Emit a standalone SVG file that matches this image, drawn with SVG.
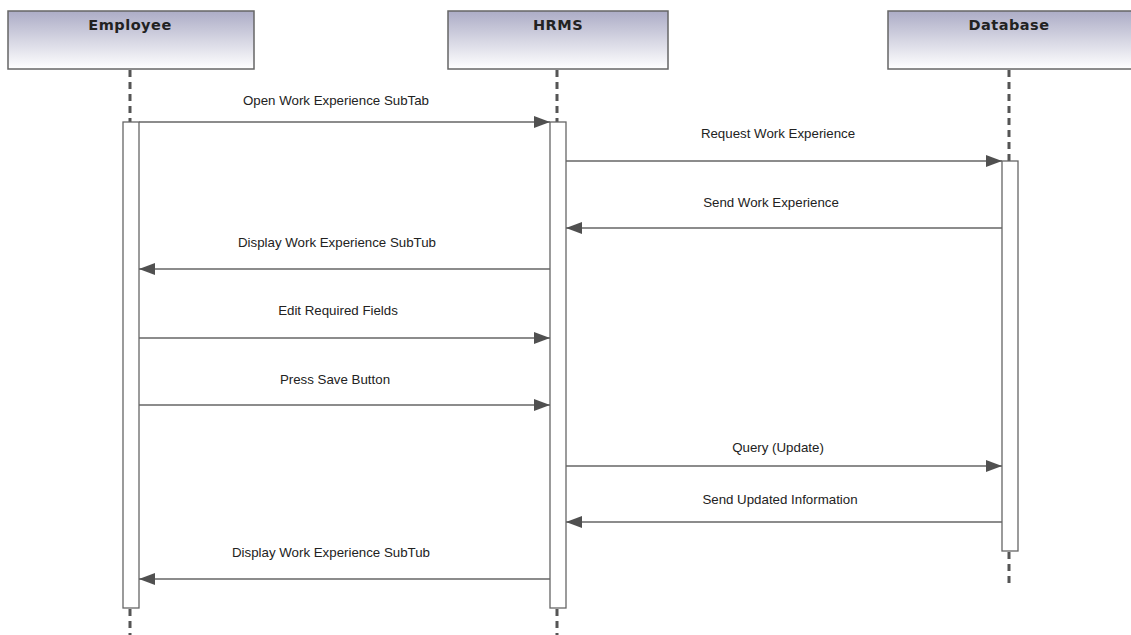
<svg xmlns="http://www.w3.org/2000/svg" width="1131" height="635" viewBox="0 0 1131 635">
<defs>
<linearGradient id="hdr" x1="0" y1="0" x2="0" y2="1">
<stop offset="0" stop-color="#acacc6"/>
<stop offset="1" stop-color="#ffffff"/>
</linearGradient>
<marker id="ah" viewBox="0 0 16 12" refX="16" refY="6" markerWidth="16" markerHeight="12" markerUnits="userSpaceOnUse" orient="auto">
<path d="M0,0 L16,6 L0,12 Z" fill="#505050"/>
</marker>
<style>
.hdr{fill:url(#hdr);stroke:#666;stroke-width:1.5}
.hdrt{font-family:"DejaVu Sans",Verdana,sans-serif;font-weight:bold;font-size:14.5px;letter-spacing:0.5px;fill:#222;text-anchor:middle}
.life{stroke:#555;stroke-width:3;stroke-dasharray:7,5;fill:none}
.act{fill:#fff;stroke:#666;stroke-width:1.3}
.msg{stroke:#666;stroke-width:1.3;fill:none;marker-end:url(#ah)}
.lbl{font-family:"Liberation Sans",Arial,sans-serif;font-size:13.3px;fill:#222;text-anchor:middle}
</style>
</defs>
<rect width="1131" height="635" fill="#fff"/>
<g id="employee">
<rect class="hdr" x="8" y="11" width="246" height="58"/>
<text class="hdrt" x="130" y="30">Employee</text>
<line class="life" x1="130" y1="70" x2="130" y2="122"/>
<line class="life" x1="130" y1="609" x2="130" y2="635"/>
<rect class="act" x="123" y="122" width="16" height="486"/>
</g>
<g id="hrms">
<rect class="hdr" x="448" y="11" width="220" height="58"/>
<text class="hdrt" x="558" y="30">HRMS</text>
<line class="life" x1="557" y1="70" x2="557" y2="122"/>
<line class="life" x1="557" y1="609" x2="557" y2="635"/>
<rect class="act" x="550" y="122" width="16" height="486"/>
</g>
<g id="database">
<rect class="hdr" x="888" y="11" width="250" height="58"/>
<text class="hdrt" x="1009" y="30">Database</text>
<line class="life" x1="1009" y1="70" x2="1009" y2="161"/>
<line class="life" x1="1009" y1="552" x2="1009" y2="584"/>
<rect class="act" x="1002" y="161" width="16" height="390"/>
</g>
<g id="connectors">
<line class="msg" x1="139" y1="122" x2="550" y2="122"/>
<text class="lbl" x="336" y="105">Open Work Experience SubTab</text>
<line class="msg" x1="566" y1="161" x2="1002" y2="161"/>
<text class="lbl" x="778" y="138">Request Work Experience</text>
<line class="msg" x1="1002" y1="228" x2="566" y2="228"/>
<text class="lbl" x="771" y="207">Send Work Experience</text>
<line class="msg" x1="550" y1="269" x2="139" y2="269"/>
<text class="lbl" x="337" y="247">Display Work Experience SubTub</text>
<line class="msg" x1="139" y1="338" x2="550" y2="338"/>
<text class="lbl" x="338" y="315">Edit Required Fields</text>
<line class="msg" x1="139" y1="405" x2="550" y2="405"/>
<text class="lbl" x="335" y="384">Press Save Button</text>
<line class="msg" x1="566" y1="466" x2="1002" y2="466"/>
<text class="lbl" x="778" y="452">Query (Update)</text>
<line class="msg" x1="1002" y1="522" x2="566" y2="522"/>
<text class="lbl" x="780" y="504">Send Updated Information</text>
<line class="msg" x1="550" y1="579" x2="139" y2="579"/>
<text class="lbl" x="331" y="557">Display Work Experience SubTub</text>
</g>
</svg>
